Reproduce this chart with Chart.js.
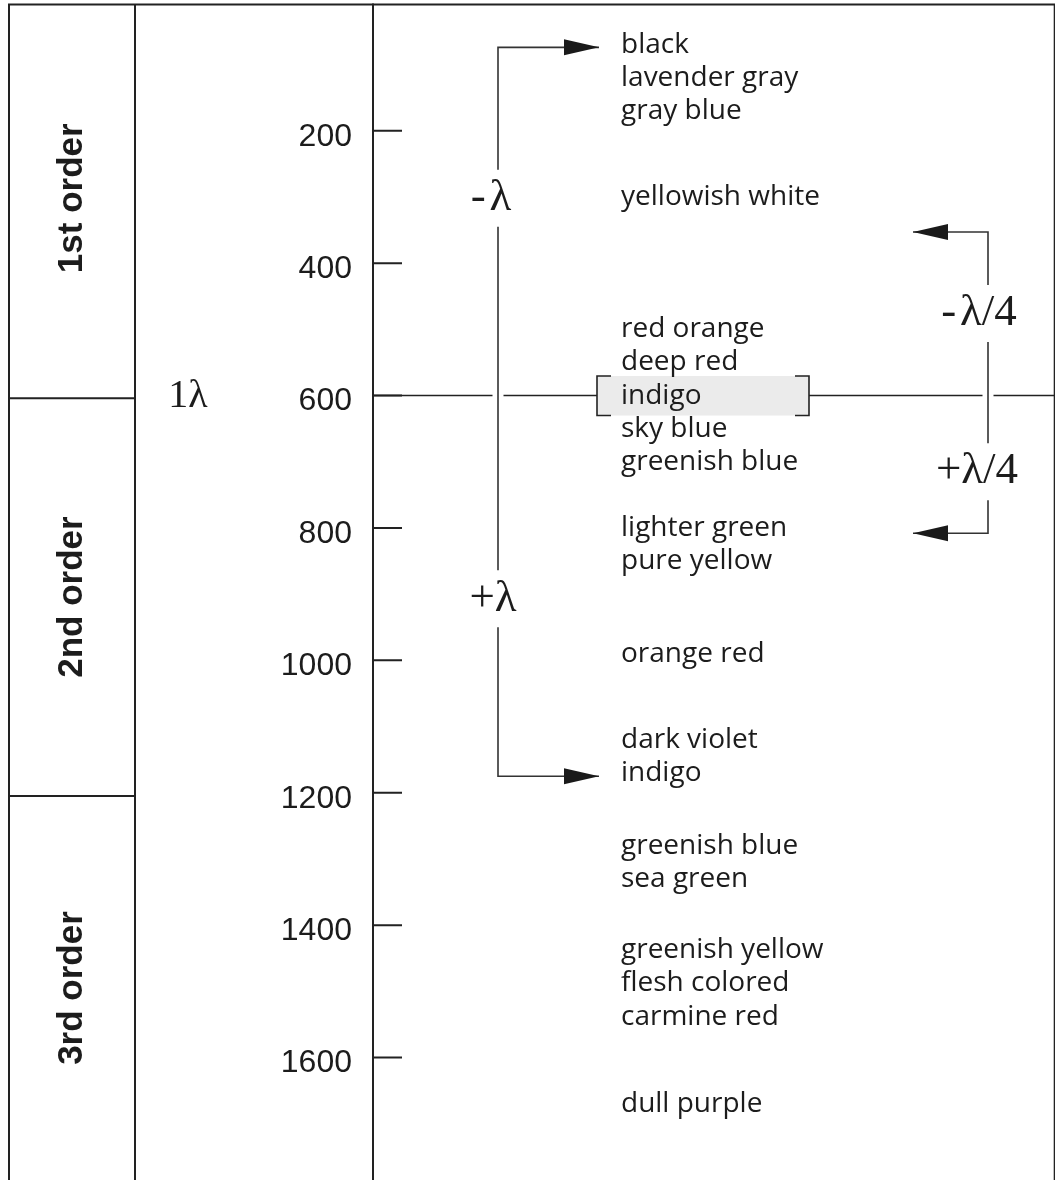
<!DOCTYPE html>
<html>
<head>
<meta charset="utf-8">
<script src="https://cdn.jsdelivr.net/npm/chart.js@4.4.1/dist/chart.umd.min.js"></script>
<style>
html,body{margin:0;padding:0;background:#fff;}
#wrap{position:relative;width:1055px;height:1180px;overflow:hidden;}
canvas{display:block;}
</style>
</head>
<body>
<div id="wrap"><canvas id="c" width="1055" height="1180"></canvas></div>
<script>
// ---------------- data ----------------
const yTicks = [200, 400, 600, 800, 1000, 1200, 1400, 1600];
const colorNames = ['black', 'lavender gray', 'gray blue', 'yellowish white',
  'red orange', 'deep red', 'indigo', 'sky blue', 'greenish blue',
  'lighter green', 'pure yellow', 'orange red', 'dark violet', 'indigo',
  'greenish blue', 'sea green', 'greenish yellow', 'flesh colored',
  'carmine red', 'dull purple'];
const colorRetardation = [70, 120, 170, 300, 500, 550, 600, 650, 700,
  800, 850, 990, 1120, 1170, 1280, 1330, 1437, 1488, 1539, 1670];
const orderLabels = ['1st order', '2nd order', '3rd order'];
const orderBounds = [0, 604, 1205, 1785];
const referenceRetardation = [600];        // 1λ, highlighted "indigo"
const referenceLabel = ['1λ'];
const lambdaArrowEnds = [74, 1175];        // -λ , +λ
const lambdaLabels = ['-\u200Aλ', '+λ'];
const quarterArrowEnds = [353, 808];       // -λ/4 , +λ/4
const quarterLabels = ['-\u200Aλ/4', '+λ/4'];

// ---------------- layout / style ----------------
const AX = { min: 2.5, max: 1785, xMax: 682 };
const L = {
  leftBorder: 9, orderCol: 135, topBorder: 4.5, orderBaseX: 82, refLabelX: 188,
  tickLen: 29, axisW: 373,
  lambdaX: 125, lambdaTipX: 226, quarterX: 615, quarterTipX: 540, textX: 248,
  bracketL: 224, bracketR: 436, rightBorderX: 681,
  lambdaLabelAt: [302, 907], quarterLabelAt: [476, 715], labelGap: 43, refGap: 5.5,
  lambdaLabelDx: [-7, -5], quarterLabelDx: [-9, -11],
  arrowLen: 35, arrowHalf: 8, bracketSerif: 14, boxUp: 19.5, boxDown: 20
};
const LINE = '#222222';
const TXT = '#1c1c1c';
const FONT_TEXT = '28px "Open Sans", Lato, sans-serif';
const FONT_TICK = 'Liberation Sans';
const FONT_ORDER = 'bold 35px "Liberation Sans", Arial, sans-serif';
const FONT_SERIF = '45px "Liberation Serif", "Times New Roman", serif';
const FONT_SERIF_REF = '40px "Liberation Serif", "Times New Roman", serif';

const ref = referenceRetardation[0];
const refLine = [
  {x: 0, y: ref}, {x: L.lambdaX - L.refGap, y: ref}, {x: L.lambdaX, y: null},
  {x: L.lambdaX + L.refGap, y: ref}, {x: L.bracketL, y: ref},
  {x: (L.bracketL + L.bracketR) / 2, y: null},
  {x: L.bracketR, y: ref}, {x: L.quarterX - L.refGap, y: ref}, {x: L.quarterX, y: null},
  {x: L.quarterX + L.refGap, y: ref}, {x: AX.xMax, y: ref}
];
function bentPath(tipX, stemX, ends, labelsAt) {
  const g = L.labelGap;
  return [
    {x: tipX, y: ends[0]}, {x: stemX, y: ends[0]},
    {x: stemX, y: labelsAt[0] - g}, {x: stemX, y: null}, {x: stemX, y: labelsAt[0] + g},
    {x: stemX, y: labelsAt[1] - g}, {x: stemX, y: null}, {x: stemX, y: labelsAt[1] + g},
    {x: stemX, y: ends[1]}, {x: tipX, y: ends[1]}
  ];
}
const lambdaPath = bentPath(L.lambdaTipX, L.lambdaX, lambdaArrowEnds, L.lambdaLabelAt);
const quarterPath = bentPath(L.quarterTipX, L.quarterX, quarterArrowEnds, L.quarterLabelAt);

function arrowHead(ctx, tip, from) {
  const dx = tip.x - from.x, dy = tip.y - from.y, d = Math.hypot(dx, dy);
  const ux = dx / d, uy = dy / d;
  const bx = tip.x - ux * L.arrowLen, by = tip.y - uy * L.arrowLen;
  ctx.beginPath();
  ctx.moveTo(tip.x, tip.y);
  ctx.lineTo(bx - uy * L.arrowHalf, by + ux * L.arrowHalf);
  ctx.lineTo(bx + uy * L.arrowHalf, by - ux * L.arrowHalf);
  ctx.closePath();
  ctx.fill();
}

const framePlugin = {
  id: 'frame',
  beforeDatasetsDraw(chart) {
    const {ctx, scales: {x, y}} = chart;
    const yr = y.getPixelForValue(ref);
    const xl = x.getPixelForValue(L.bracketL), xr = x.getPixelForValue(L.bracketR);
    ctx.save();
    ctx.fillStyle = '#ebebeb';
    ctx.fillRect(xl, yr - L.boxUp, xr - xl, L.boxUp + L.boxDown);
    ctx.strokeStyle = LINE; ctx.lineWidth = 1.6;
    ctx.beginPath();
    ctx.moveTo(xl + L.bracketSerif, yr - L.boxUp); ctx.lineTo(xl, yr - L.boxUp);
    ctx.lineTo(xl, yr + L.boxDown); ctx.lineTo(xl + L.bracketSerif, yr + L.boxDown);
    ctx.moveTo(xr - L.bracketSerif, yr - L.boxUp); ctx.lineTo(xr, yr - L.boxUp);
    ctx.lineTo(xr, yr + L.boxDown); ctx.lineTo(xr - L.bracketSerif, yr + L.boxDown);
    ctx.stroke();
    ctx.restore();
  },
  afterDatasetsDraw(chart) {
    const {ctx, scales: {x, y}} = chart;
    ctx.save();
    ctx.fillStyle = '#1a1a1a';
    [1, 2].forEach(i => {
      const pts = chart.getDatasetMeta(i).data;
      arrowHead(ctx, pts[0], pts[1]);
      arrowHead(ctx, pts[pts.length - 1], pts[pts.length - 2]);
    });
    ctx.fillStyle = TXT;
    ctx.font = FONT_TEXT;
    ctx.textAlign = 'left';
    ctx.textBaseline = 'middle';
    const tx = x.getPixelForValue(L.textX);
    colorNames.forEach((n, i) => ctx.fillText(n, tx, y.getPixelForValue(colorRetardation[i])));
    ctx.font = FONT_SERIF;
    ctx.textAlign = 'center';
    lambdaLabels.forEach((t, i) => ctx.fillText(t, x.getPixelForValue(L.lambdaX) + L.lambdaLabelDx[i], y.getPixelForValue(L.lambdaLabelAt[i])));
    quarterLabels.forEach((t, i) => ctx.fillText(t, x.getPixelForValue(L.quarterX) + L.quarterLabelDx[i], y.getPixelForValue(L.quarterLabelAt[i])));
    ctx.font = FONT_SERIF_REF;
    ctx.fillText(referenceLabel[0], L.refLabelX, y.getPixelForValue(ref) + 1);
    ctx.restore();
  },
  afterDraw(chart) {
    const {ctx, scales: {x, y}, chartArea} = chart;
    ctx.save();
    // clear anything above the top frame line
    ctx.fillStyle = '#ffffff';
    ctx.fillRect(0, 0, chart.width, L.topBorder - 1);
    ctx.strokeStyle = LINE;
    ctx.lineWidth = 2;
    ctx.beginPath();
    ctx.moveTo(L.leftBorder - 1, L.topBorder); ctx.lineTo(chartArea.right, L.topBorder);
    ctx.moveTo(L.leftBorder, L.topBorder); ctx.lineTo(L.leftBorder, chartArea.bottom);
    ctx.moveTo(L.orderCol, L.topBorder); ctx.lineTo(L.orderCol, chartArea.bottom);
    orderBounds.slice(1, -1).forEach(b => {
      const py = y.getPixelForValue(b);
      ctx.moveTo(L.leftBorder, py); ctx.lineTo(L.orderCol, py);
    });
    y.ticks.forEach(t => {
      const py = y.getPixelForValue(t.value);
      ctx.moveTo(chartArea.left, py); ctx.lineTo(chartArea.left + L.tickLen, py);
    });
    ctx.stroke();
    ctx.lineWidth = 1.6;
    ctx.beginPath();
    const rx = x.getPixelForValue(L.rightBorderX) + 0.5;
    ctx.moveTo(rx, L.topBorder); ctx.lineTo(rx, chartArea.bottom);
    ctx.stroke();
    ctx.fillStyle = TXT;
    ctx.font = FONT_ORDER;
    ctx.textAlign = 'center';
    ctx.textBaseline = 'alphabetic';
    orderLabels.forEach((t, i) => {
      const yc = y.getPixelForValue((orderBounds[i] + orderBounds[i + 1]) / 2);
      ctx.save();
      ctx.translate(L.orderBaseX, yc);
      ctx.rotate(-Math.PI / 2);
      ctx.fillText(t, 0, 0);
      ctx.restore();
    });
    ctx.restore();
  }
};

new Chart(document.getElementById('c'), {
  type: 'line',
  data: {
    datasets: [
      {label: 'reference', data: refLine, borderColor: LINE, borderWidth: 1.6, pointRadius: 0, spanGaps: false},
      {label: 'lambda', data: lambdaPath, borderColor: '#333', borderWidth: 1.6, pointRadius: 0, spanGaps: false},
      {label: 'quarter', data: quarterPath, borderColor: '#333', borderWidth: 1.6, pointRadius: 0, spanGaps: false}
    ]
  },
  options: {
    responsive: false,
    animation: false,
    devicePixelRatio: 1,
    layout: {padding: 0, autoPadding: false},
    plugins: {legend: {display: false}, tooltip: {enabled: false}},
    elements: {line: {tension: 0, borderCapStyle: 'butt', borderJoinStyle: 'miter'}},
    scales: {
      x: {type: 'linear', min: 0, max: AX.xMax, display: false},
      y: {
        type: 'linear', reverse: true, min: AX.min, max: AX.max,
        afterBuildTicks: s => { s.ticks = yTicks.map(v => ({value: v})); },
        afterFit: s => { s.width = L.axisW; s.paddingTop = 0; s.paddingBottom = 0; },
        grid: {display: false, drawTicks: false},
        border: {display: true, color: LINE, width: 2},
        ticks: {padding: 21, labelOffset: 6, color: TXT, font: {family: FONT_TICK, size: 32},
                callback: v => String(v)}
      }
    }
  },
  plugins: [framePlugin]
});
</script>
</body>
</html>
